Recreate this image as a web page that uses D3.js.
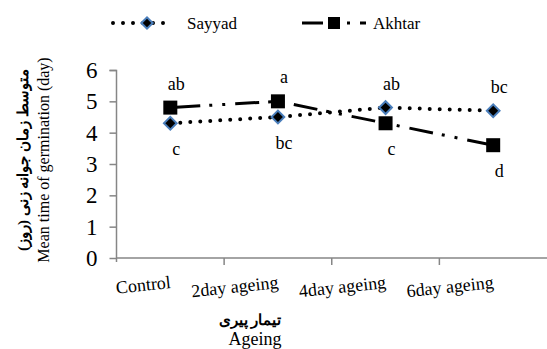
<!DOCTYPE html>
<html lang="en">
<head>
<meta charset="utf-8">
<title>Mean time of germination</title>
<script src="https://d3js.org/d3.v7.min.js"></script>
</head>
<body style="margin:0;background:#fff">
<div id="chart"></div>
<script>
// chart data
var categories = ["Control", "2day ageing", "4day ageing", "6day ageing"]
var seriesNames = ["Sayyad", "Akhtar"]
var sayyad = [4.3, 4.5, 4.8, 4.7]
var akhtar = [4.8, 5.0, 4.3, 3.6]
var yTicks = [0, 1, 2, 3, 4, 5, 6]
// mean comparison letters, one per point
var sayyadLetters = ["c", "bc", "ab", "bc"]
var akhtarLetters = ["ab", "a", "c", "d"]

var serif = "'Liberation Serif', 'Times New Roman', serif"
var width = 547, height = 349
var svg = d3.select("#chart").append("svg")
    .attr("width", width)
    .attr("height", height)

var x = d3.scaleBand().domain(categories).range([116.5, 547])
var y = d3.scaleLinear().domain([0, 6]).range([258, 70])
var cx = function (d) { return x(d) + x.bandwidth() / 2 }

var axisColor = "#868686"

function label(sel, size, bold) {
    return sel.style("font-family", serif)
        .style("font-size", size + "px")
        .style("font-weight", bold ? "bold" : "normal")
        .attr("fill", "#000")
}

// y axis
var yAxis = svg.append("g")
    .attr("transform", "translate(116.5,0)")
    .call(d3.axisLeft(y).tickValues(yTicks).tickSize(7).tickPadding(12).tickFormat(d3.format("d")))
yAxis.select(".domain").attr("stroke", axisColor).attr("stroke-width", 1.5)
    .attr("d", "M-7,70.5H0V262")
yAxis.selectAll(".tick line").attr("stroke", axisColor).attr("stroke-width", 1.5)
label(yAxis.selectAll(".tick text"), 23)

// x axis
var xAxis = svg.append("g")
    .attr("transform", "translate(0,258)")
    .call(d3.axisBottom(x).tickSize(0).tickFormat(""))
xAxis.select(".domain").attr("stroke", axisColor).attr("stroke-width", 1.5)
    .attr("d", "M116.5,0H547")
// tick marks on band boundaries
xAxis.selectAll(".bound")
    .data(categories.slice(1))
    .enter().append("line")
    .attr("x1", function (d) { return x(d) }).attr("x2", function (d) { return x(d) })
    .attr("y1", 0).attr("y2", 7)
    .attr("stroke", axisColor).attr("stroke-width", 1.5)

// category labels, slightly tilted
label(svg.selectAll(".cat")
    .data(categories)
    .enter().append("text")
    .attr("text-anchor", "end")
    .attr("transform", function (d) { return "translate(" + (cx(d) + 1) + ",288) rotate(-6)" })
    .text(function (d) { return d }), 18)

// axis titles
label(svg.append("text")
    .attr("x", 250).attr("y", 325)
    .attr("text-anchor", "middle")
    .text("تیمار پیری"), 15, true)
label(svg.append("text")
    .attr("x", 255).attr("y", 345)
    .attr("text-anchor", "middle")
    .text("Ageing"), 18)

label(svg.append("text")
    .attr("transform", "translate(28,160) rotate(-90)")
    .attr("text-anchor", "middle")
    .text("متوسط زمان جوانه زنی (روز)"), 15, true)
label(svg.append("text")
    .attr("transform", "translate(49,160) rotate(-90)")
    .attr("text-anchor", "middle")
    .text("Mean time of  germination (day)"), 16)

// lines
var line = d3.line()
    .x(function (d, i) { return cx(categories[i]) })
    .y(function (d) { return y(d) })

svg.append("path")
    .datum(sayyad)
    .attr("d", line)
    .attr("fill", "none")
    .attr("stroke", "#000")
    .attr("stroke-width", 4)
    .attr("stroke-linecap", "round")
    .attr("stroke-dasharray", "0,10")

svg.append("path")
    .datum(akhtar)
    .attr("d", line)
    .attr("fill", "none")
    .attr("stroke", "#000")
    .attr("stroke-width", 3)
    .attr("stroke-dasharray", "24,9,3,10,3,10")
    .attr("stroke-dashoffset", -6)

// markers
svg.selectAll(".sq")
    .data(akhtar)
    .enter().append("rect")
    .attr("x", function (d, i) { return cx(categories[i]) - 7 })
    .attr("y", function (d) { return y(d) - 7 })
    .attr("width", 14).attr("height", 14)
    .attr("fill", "#000")

svg.selectAll(".dia")
    .data(sayyad)
    .enter().append("rect")
    .attr("transform", function (d, i) {
        return "translate(" + cx(categories[i]) + "," + y(d) + ") rotate(45)"
    })
    .attr("x", -4.5).attr("y", -4.5)
    .attr("width", 9).attr("height", 9)
    .attr("fill", "#000")
    .attr("stroke", "#4a7ebb")
    .attr("stroke-width", 2)

// letters: the upper point gets its letter above, the lower one below
categories.forEach(function (c, i) {
    var sAbove = sayyad[i] > akhtar[i]
    var pts = [
        { v: sayyad[i], t: sayyadLetters[i], above: sAbove },
        { v: akhtar[i], t: akhtarLetters[i], above: !sAbove }
    ]
    pts.forEach(function (p) {
        label(svg.append("text")
            .attr("x", cx(c) + 6)
            .attr("y", y(p.v) + (p.above ? -18 : 32))
            .attr("text-anchor", "middle")
            .text(p.t), 18)
    })
})

// legend
var leg = svg.append("g")
leg.append("line")
    .attr("x1", 113).attr("x2", 172).attr("y1", 23).attr("y2", 23)
    .attr("stroke", "#000").attr("stroke-width", 4)
    .attr("stroke-linecap", "round").attr("stroke-dasharray", "0,10")
leg.append("rect")
    .attr("transform", "translate(147,23) rotate(45)")
    .attr("x", -4).attr("y", -4).attr("width", 8).attr("height", 8)
    .attr("fill", "#000").attr("stroke", "#4a7ebb").attr("stroke-width", 2)
label(leg.append("text").attr("x", 187).attr("y", 29).text(seriesNames[0]), 17)

leg.append("line")
    .attr("x1", 302).attr("x2", 368).attr("y1", 23).attr("y2", 23)
    .attr("stroke", "#000").attr("stroke-width", 3)
    .attr("stroke-dasharray", "21,24,3,10,6,100")
leg.append("rect")
    .attr("x", 328).attr("y", 17).attr("width", 12).attr("height", 12)
    .attr("fill", "#000")
label(leg.append("text").attr("x", 373).attr("y", 29).text(seriesNames[1]), 17)
</script>
</body>
</html>
